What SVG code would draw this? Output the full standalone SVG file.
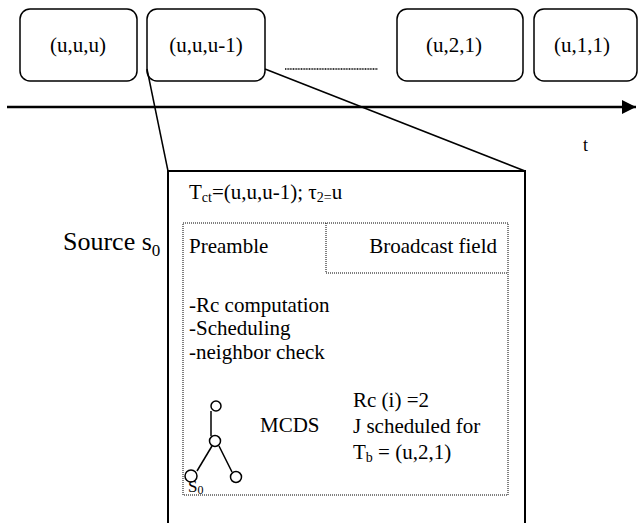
<svg xmlns="http://www.w3.org/2000/svg" width="638" height="523" viewBox="0 0 638 523">
  <defs>
    <style>
      text { font-family: "Liberation Serif", "Times New Roman", serif; fill: #000; }
      .slot { fill: #fff; stroke: #000; stroke-width: 1.5; }
      .lbl { font-size: 21px; text-anchor: middle; }
      .body { font-size: 21px; }
      .dot { fill: none; stroke: #000; stroke-width: 1; stroke-dasharray: 1 1; }
      .edge { fill: none; stroke: #000; stroke-width: 1.5; }
      .node { fill: #fff; stroke: #000; stroke-width: 1.5; }
    </style>
    <marker id="arrow" viewBox="0 0 14 14" refX="14" refY="7" markerWidth="14" markerHeight="14" markerUnits="userSpaceOnUse" orient="auto">
      <path d="M0,0 L14,7 L0,14 Z" fill="#000"/>
    </marker>
  </defs>
  <rect width="638" height="523" fill="#fff"/>

  <!-- time slots -->
  <g id="slot-uuu">
    <rect class="slot" x="20" y="9" width="117" height="72" rx="10"/>
    <text class="lbl" x="78" y="52">(u,u,u)</text>
  </g>
  <g id="slot-uuu-1">
    <rect class="slot" x="147" y="9" width="118" height="72" rx="10"/>
    <text class="lbl" x="206" y="52">(u,u,u-1)</text>
  </g>
  <g id="slot-u21">
    <rect class="slot" x="397" y="9" width="126" height="72" rx="10"/>
    <text class="lbl" x="454" y="52">(u,2,1)</text>
  </g>
  <g id="slot-u11">
    <rect class="slot" x="534" y="9" width="103" height="72" rx="10"/>
    <text class="lbl" x="582" y="52">(u,1,1)</text>
  </g>
  <line x1="285" y1="69" x2="378" y2="69" stroke="#000" stroke-width="1.5" stroke-dasharray="1 0.6"/>

  <!-- time axis -->
  <g id="axis">
    <line x1="7" y1="107" x2="636" y2="107" stroke="#000" stroke-width="2.5" marker-end="url(#arrow)"/>
    <text x="583" y="151" font-size="18">t</text>
  </g>

  <!-- zoom lines from slot (u,u,u-1) to its detail frame -->
  <g id="connectors">
    <line class="edge" x1="147" y1="69" x2="168" y2="171"/>
    <line class="edge" x1="265" y1="69" x2="525" y2="171"/>
  </g>

  <!-- detail frame of slot (u,u,u-1) -->
  <g id="frame">
    <path d="M168,523 V171 H525 V523" fill="none" stroke="#000" stroke-width="2"/>
    <text class="body" x="189" y="199">T<tspan font-size="14" dy="3">ct</tspan><tspan dy="-3">=(u,u,u-1); τ</tspan><tspan font-size="14" dy="3">2=</tspan><tspan dy="-3">u</tspan></text>
  </g>

  <text x="63" y="250" font-size="26">Source s<tspan font-size="17" dy="6">0</tspan></text>

  <!-- packet layout -->
  <g id="packet">
    <rect class="dot" x="183" y="223" width="325" height="272"/>
    <polyline class="dot" points="326,223 326,273 508,273"/>
    <text class="body" x="189" y="253">Preamble</text>
    <text class="body" x="497" y="253" text-anchor="end">Broadcast field</text>
    <text class="body" x="189" y="312">-Rc computation</text>
    <text class="body" x="189" y="335">-Scheduling</text>
    <text class="body" x="189" y="359">-neighbor check</text>
    <text class="body" x="260" y="432">MCDS</text>
    <text class="body" x="353" y="407">Rc (i) =2</text>
    <text class="body" x="353" y="433">J scheduled for</text>
    <text class="body" x="353" y="459">T<tspan font-size="14" dy="3">b</tspan><tspan dy="-3"> = (u,2,1)</tspan></text>
  </g>

  <!-- MCDS tree rooted at s0 -->
  <g id="mcds">
    <line class="edge" x1="211" y1="411" x2="211" y2="436"/>
    <line class="edge" x1="212" y1="446" x2="197" y2="471"/>
    <line class="edge" x1="219" y1="446" x2="232" y2="472"/>
    <circle class="node" cx="216" cy="406" r="5"/>
    <circle class="node" cx="215" cy="441" r="5.5"/>
    <circle class="node" cx="191" cy="476" r="6"/>
    <circle class="node" cx="236" cy="477" r="5.5"/>
    <text x="188" y="492" font-size="17">S<tspan font-size="12" dy="2">0</tspan></text>
  </g>
</svg>
